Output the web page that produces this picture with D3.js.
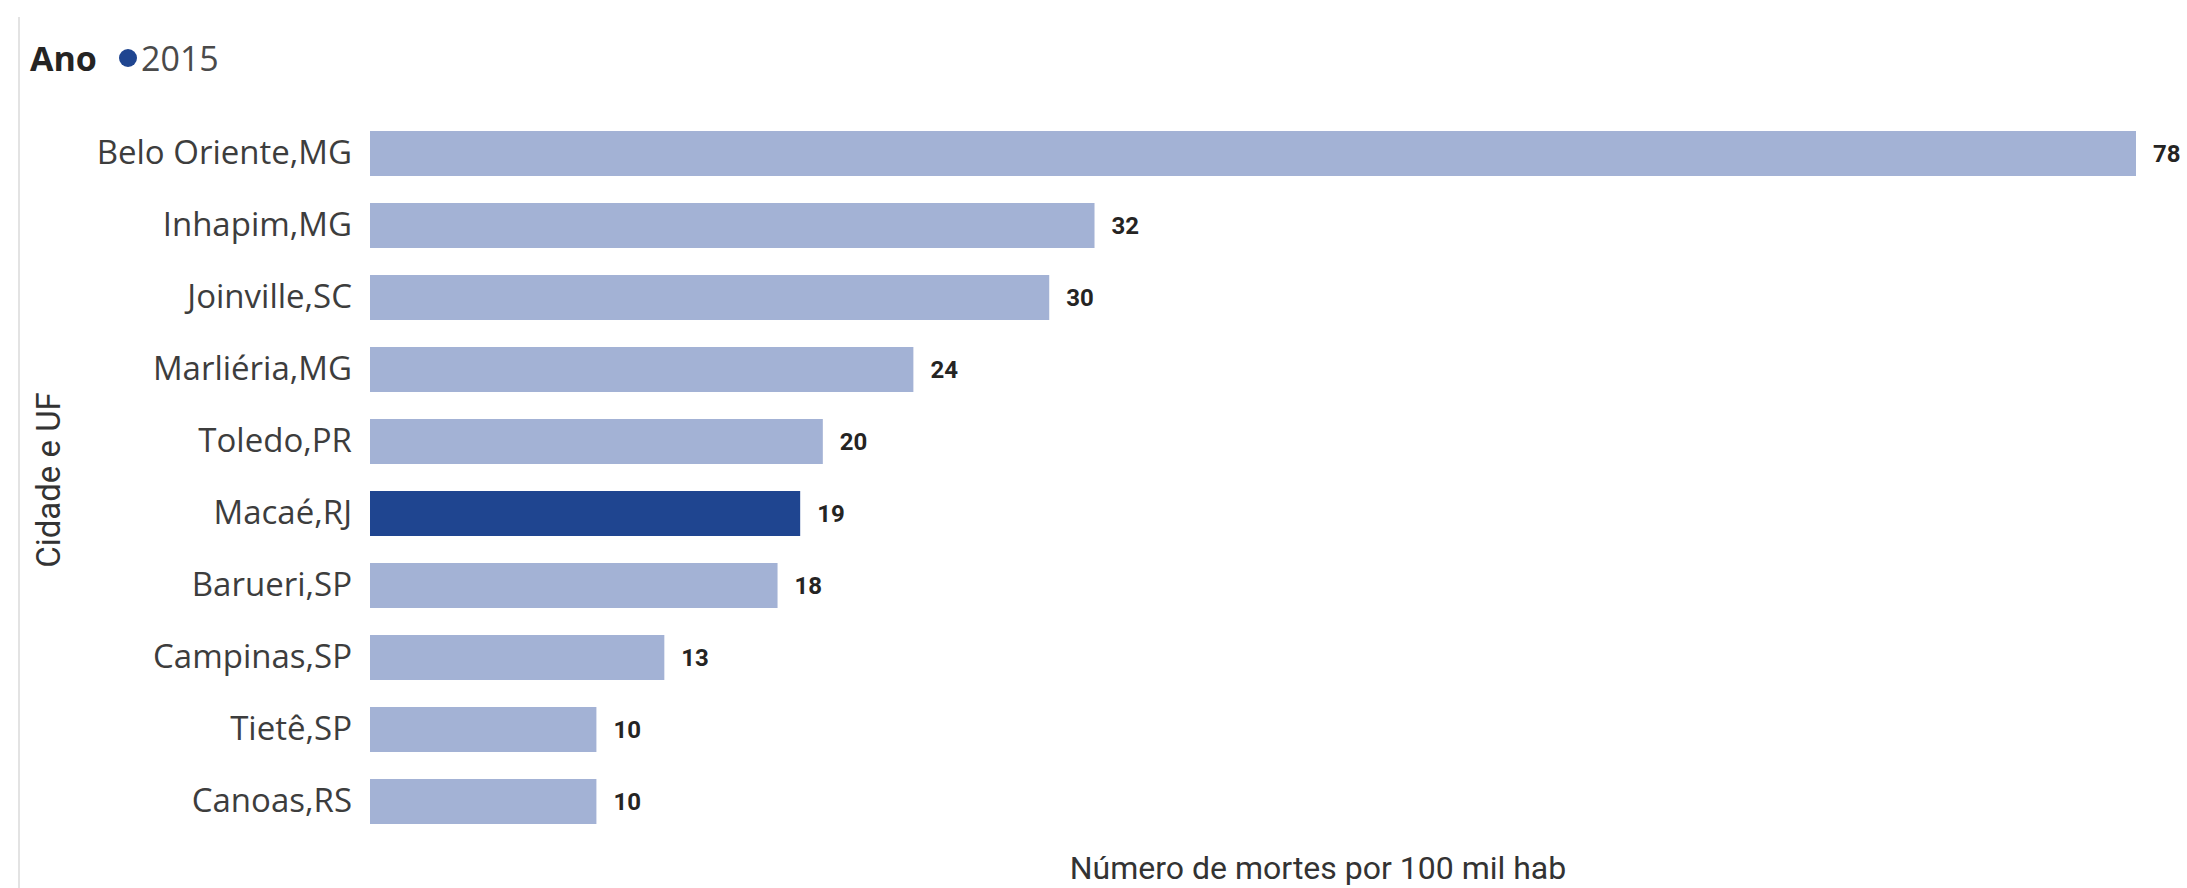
<!DOCTYPE html>
<html>
<head>
<meta charset="utf-8">
<script src="https://cdn.jsdelivr.net/npm/d3@7"></script>
<style>
  html, body { margin: 0; padding: 0; background: #ffffff; }
  svg { display: block; }
</style>
</head>
<body>
<svg id="chart" width="2187" height="888"></svg>
<script>
// Cities (in display order) and deaths per 100k inhabitants
const cities = [
  "Belo Oriente,MG", "Inhapim,MG", "Joinville,SC", "Marliéria,MG", "Toledo,PR",
  "Macaé,RJ", "Barueri,SP", "Campinas,SP", "Tietê,SP", "Canoas,RS"
];
const deaths = [78, 32, 30, 24, 20, 19, 18, 13, 10, 10];
const highlightCity = "Macaé,RJ";
const legendTitle = "Ano";
const legendYears = ["2015"];
const xAxisTitle = "Número de mortes por 100 mil hab";
const yAxisTitle = "Cidade e UF";

const data = cities.map((c, i) => ({ city: c, value: deaths[i] }));

const svg = d3.select("#chart");
const W = 2187, H = 888;

const colorLight = "#a3b2d5";
const colorDark = "#1f4590";

const x = d3.scaleLinear()
  .domain([0, 78])
  .range([370, 2136]);

const y = d3.scaleBand()
  .domain(cities)
  .range([117.5, 837.5])
  .paddingInner(0.375)
  .paddingOuter(0.1875);

// left border line of the visual
svg.append("line")
  .attr("x1", 19).attr("x2", 19)
  .attr("y1", 17).attr("y2", H)
  .attr("stroke", "#e3e3e3")
  .attr("stroke-width", 2);

// legend
const legend = svg.append("g");
legend.append("text")
  .attr("x", 30).attr("y", 58)
  .attr("dominant-baseline", "central")
  .attr("font-family", "'Open Sans', sans-serif")
  .attr("font-weight", "bold")
  .attr("font-size", 34)
  .attr("fill", "#252423")
  .text(legendTitle);
legendYears.forEach((yr, i) => {
  legend.append("circle")
    .attr("cx", 128 + i * 120).attr("cy", 58).attr("r", 9)
    .attr("fill", colorDark);
  legend.append("text")
    .attr("x", 141 + i * 120).attr("y", 58)
    .attr("dominant-baseline", "central")
    .attr("font-family", "'Open Sans', sans-serif")
    .attr("font-size", 34)
    .attr("fill", "#4a4a4a")
    .text(yr);
});

// category axis
const yAxis = d3.axisLeft(y).tickSize(0).tickPadding(18);
const gy = svg.append("g")
  .attr("transform", "translate(370,0)")
  .call(yAxis);
gy.select(".domain").remove();
gy.selectAll("text")
  .attr("font-family", "'Open Sans', sans-serif")
  .attr("font-size", 33)
  .attr("fill", "#3d3d3d");

// bars
svg.append("g")
  .selectAll("rect")
  .data(data)
  .join("rect")
  .attr("x", x(0))
  .attr("y", d => y(d.city))
  .attr("width", d => x(d.value) - x(0))
  .attr("height", y.bandwidth())
  .attr("fill", d => d.city === highlightCity ? colorDark : colorLight);

// value labels
svg.append("g")
  .selectAll("text")
  .data(data)
  .join("text")
  .attr("x", d => x(d.value) + 17)
  .attr("y", d => y(d.city) + y.bandwidth() / 2)
  .attr("dominant-baseline", "central")
  .attr("font-family", "Roboto, sans-serif")
  .attr("font-weight", "bold")
  .attr("font-size", 24)
  .attr("fill", "#252423")
  .text(d => d3.format("d")(d.value));

// axis titles
svg.append("text")
  .attr("x", 1318).attr("y", 868)
  .attr("text-anchor", "middle")
  .attr("dominant-baseline", "central")
  .attr("font-family", "Roboto, sans-serif")
  .attr("font-size", 32)
  .attr("fill", "#333333")
  .text(xAxisTitle);

svg.append("text")
  .attr("transform", "translate(48,480) rotate(-90)")
  .attr("text-anchor", "middle")
  .attr("dominant-baseline", "central")
  .attr("font-family", "Roboto, sans-serif")
  .attr("font-size", 33)
  .attr("fill", "#333333")
  .text(yAxisTitle);
</script>
</body>
</html>
